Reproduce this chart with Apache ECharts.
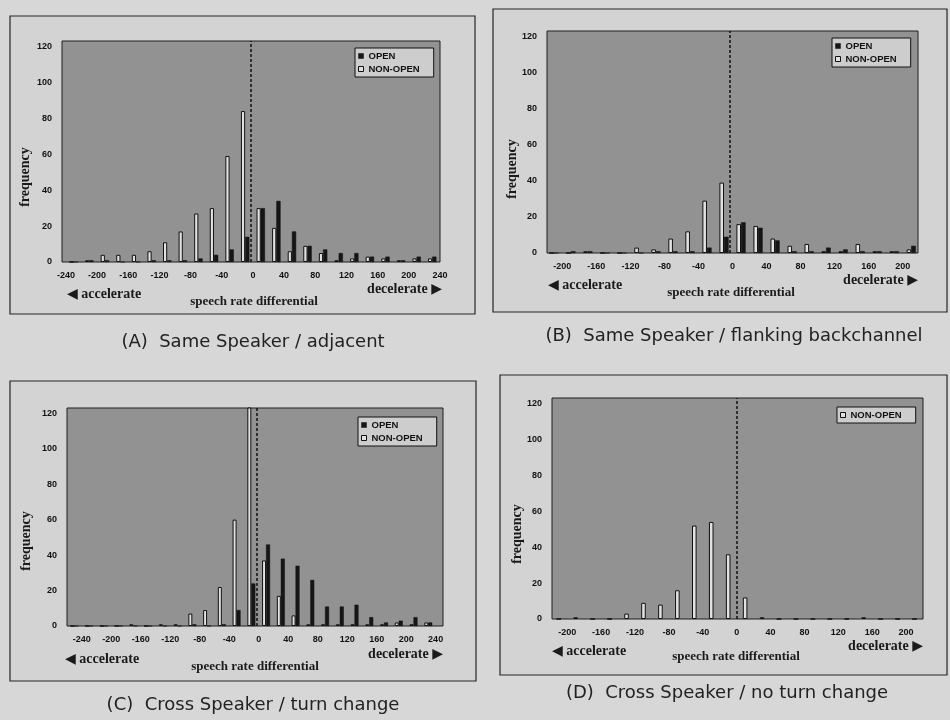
<!DOCTYPE html>
<html>
<head>
<meta charset="utf-8">
<script src="https://cdn.jsdelivr.net/npm/echarts@6/dist/echarts.min.js"></script>
<style>
html, body { margin: 0; padding: 0; background: #d7d7d7; }
#main { width: 950px; height: 720px; }
</style>
</head>
<body>
<div id="main"></div>
<script>
// bin centres (speech rate differential) and frequencies per panel
var binsA = [-230,-210,-190,-170,-150,-130,-110,-90,-70,-50,-30,-10,10,30,50,70,90,110,130,150,170,190,210,230];
var nonOpenA = [0,1,4,4,4,6,11,17,27,30,59,84,30,19,6,9,5,1,2,3,2,1,2,2];
var openA = [0,1,1,0,0,1,1,1,2,4,7,14,30,34,17,9,7,5,5,3,3,1,3,3];

var binsB = [-210,-190,-170,-150,-130,-110,-90,-70,-50,-30,-10,10,30,50,70,90,110,130,150,170,190,210];
var nonOpenB = [0,0,1,0,0,3,2,8,12,29,39,16,15,8,4,5,1,1,5,1,1,2];
var openB = [0,1,1,0,0,0,1,1,1,3,9,17,14,7,1,1,3,2,1,1,1,4];

var binsC = [-250,-230,-210,-190,-170,-150,-130,-110,-90,-70,-50,-30,-10,10,30,50,70,90,110,130,150,170,190,210,230];
var nonOpenC = [0,0,0,0,1,0,1,1,7,9,22,60,135,37,17,6,1,1,1,1,1,1,2,1,2];
var openC = [0,0,0,0,0,0,0,0,1,0,1,9,24,46,38,34,26,11,11,12,5,2,3,5,2];

var binsD = [-210,-190,-170,-150,-130,-110,-90,-70,-50,-30,-10,10,30,50,70,90,110,130,150,170,190,210];
var nonOpenD = [0,1,0,0,3,9,8,16,52,54,36,12,1,0,0,0,0,0,1,0,0,0];

var captions = ['(A)  Same Speaker / adjacent', '(B)  Same Speaker / flanking backchannel',
                '(C)  Cross Speaker / turn change', '(D)  Cross Speaker / no turn change'];

// layout of the four panels
var panels = [
  { grid: {left: 62, top: 41, width: 378, height: 221}, xMin: -245, xMax: 240, xInt: 5,
    frame: [10, 16, 465, 298], legend: [355, 48], freq: [25, 177], accel: [67, 294], decel: [442, 289], xName: [254, 302], cap: [253, 342],
    bins: binsA, nonOpen: nonOpenA, open: openA },
  { grid: {left: 547, top: 31, width: 371, height: 222}, xMin: -218, xMax: 218, xInt: 2,
    frame: [493, 9, 454, 303], legend: [832, 38], freq: [512, 169], accel: [548, 285], decel: [918, 280], xName: [731, 293], cap: [734, 336],
    bins: binsB, nonOpen: nonOpenB, open: openB },
  { grid: {left: 67, top: 408, width: 376, height: 218}, xMin: -260, xMax: 250, xInt: 10,
    frame: [10, 381, 466, 300], legend: [358, 417], freq: [26, 541], accel: [65, 659], decel: [443, 654], xName: [255, 667], cap: [253, 705],
    bins: binsC, nonOpen: nonOpenC, open: openC },
  { grid: {left: 552, top: 398, width: 371, height: 221}, xMin: -218, xMax: 220, xInt: 2,
    frame: [500, 375, 447, 300], legend: [837, 407], freq: [517, 534], accel: [552, 651], decel: [923, 646], xName: [736, 657], cap: [727, 693],
    bins: binsD, nonOpen: nonOpenD, open: null }
];

var NONOPEN_STYLE = {color: '#e2e2e2', borderColor: '#111', borderWidth: 1};
var OPEN_STYLE = {color: '#161616', borderColor: '#111', borderWidth: 0.5};
var SERIF = '"Liberation Serif", "DejaVu Serif", serif';
var SANS = '"Liberation Sans", Arial, sans-serif';

function pairs(bins, vals) {
  return bins.map(function (b, i) { return [b, vals[i]]; });
}

var grids = [], xAxes = [], yAxes = [], series = [], legends = [], graphics = [];

panels.forEach(function (p, i) {
  grids.push(Object.assign({show: true, backgroundColor: '#929292', borderColor: '#1e1e1e', borderWidth: 1}, p.grid));
  xAxes.push({
    gridIndex: i, type: 'value', min: p.xMin, max: p.xMax, interval: p.xInt,
    axisLine: {show: false}, axisTick: {show: false}, splitLine: {show: false},
    axisLabel: {
      margin: 9, fontSize: 9, fontWeight: 'bold', color: '#111', fontFamily: SANS,
      formatter: function (v) { return v % 40 === 0 ? String(v) : ''; }
    }
  });
  yAxes.push({
    gridIndex: i, type: 'value', min: 0, max: 123, interval: 20,
    axisLine: {show: false}, axisTick: {show: false}, splitLine: {show: false},
    axisLabel: {
      margin: 10, fontSize: 9, fontWeight: 'bold', color: '#111', fontFamily: SANS,
      formatter: function (v) { return v % 20 === 0 ? String(v) : ''; }
    }
  });
  series.push({
    name: 'NON-OPEN', type: 'bar', xAxisIndex: i, yAxisIndex: i,
    barWidth: '27%', barGap: '0%', itemStyle: NONOPEN_STYLE,
    data: pairs(p.bins, p.nonOpen),
    markLine: {
      silent: true, symbol: 'none', label: {show: false},
      lineStyle: {color: '#111', type: [3, 2], width: 1.5},
      data: [{xAxis: 0}]
    }
  });
  var legendData = [{name: 'NON-OPEN', itemStyle: NONOPEN_STYLE}];
  if (p.open) {
    series.push({
      name: 'OPEN', type: 'bar', xAxisIndex: i, yAxisIndex: i,
      barWidth: '27%', barGap: '0%', itemStyle: OPEN_STYLE,
      data: pairs(p.bins, p.open)
    });
    legendData.unshift({name: 'OPEN', itemStyle: OPEN_STYLE});
  }
  legends.push({
    left: p.legend[0], top: p.legend[1], orient: 'vertical', icon: 'rect',
    backgroundColor: '#cdcdcd', borderColor: '#111', borderWidth: 1,
    padding: [3, 14, 3, 3], itemGap: 3, itemWidth: 5, itemHeight: 5, selectedMode: false,
    textStyle: {fontSize: 9.5, fontWeight: 'bold', fontFamily: SANS, color: '#111'},
    data: legendData
  });

  // panel frame and texts
  graphics.push({
    type: 'rect', z: -10, silent: true,
    shape: {x: p.frame[0], y: p.frame[1], width: p.frame[2], height: p.frame[3]},
    style: {fill: '#d3d3d3', stroke: '#262626', lineWidth: 1.2}
  });
  graphics.push({
    type: 'text', x: p.freq[0], y: p.freq[1], rotation: Math.PI / 2, silent: true,
    style: {text: 'frequency', align: 'center', verticalAlign: 'middle', fontSize: 14, fontWeight: 'bold', fontFamily: SERIF, fill: '#1a1a1a'}
  });
  graphics.push({
    type: 'text', x: p.accel[0], y: p.accel[1], silent: true,
    style: {text: '\u25C0 accelerate', align: 'left', verticalAlign: 'middle', fontSize: 14, fontWeight: 'bold', fontFamily: SERIF, fill: '#1a1a1a'}
  });
  graphics.push({
    type: 'text', x: p.decel[0], y: p.decel[1], silent: true,
    style: {text: 'decelerate \u25B6', align: 'right', verticalAlign: 'middle', fontSize: 14, fontWeight: 'bold', fontFamily: SERIF, fill: '#1a1a1a'}
  });
  graphics.push({
    type: 'text', x: p.xName[0], y: p.xName[1], silent: true,
    style: {text: 'speech rate differential', align: 'center', verticalAlign: 'middle', fontSize: 13, fontWeight: 'bold', fontFamily: SERIF, fill: '#1a1a1a'}
  });
  graphics.push({
    type: 'text', x: p.cap[0], y: p.cap[1], silent: true,
    style: {text: captions[i], align: 'center', verticalAlign: 'middle', fontSize: 18, fontFamily: '"DejaVu Sans", sans-serif', fill: '#222'}
  });
});

var myChart = echarts.init(document.getElementById('main'));
var option = {
  backgroundColor: '#d7d7d7',
  animation: false,
  grid: grids,
  xAxis: xAxes,
  yAxis: yAxes,
  legend: legends,
  graphic: graphics,
  series: series
};
myChart.setOption(option);
</script>
</body>
</html>
